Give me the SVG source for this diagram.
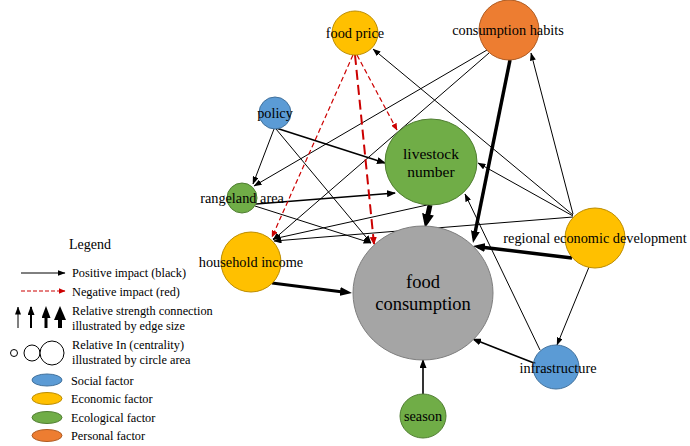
<svg xmlns="http://www.w3.org/2000/svg" width="690" height="446" viewBox="0 0 690 446" font-family="'Liberation Serif', 'Times New Roman', Times, serif">
<style>
  text { font-family: 'Liberation Serif', 'Times New Roman', Times, serif; fill: #000; }
  .lbl { font-size: 14.3px; text-anchor: middle; }
  .leg { font-size: 12.3px; }
  .e1 { stroke: #000; stroke-width: 1; fill: none; marker-end: url(#a1); }
  .e2 { stroke: #000; stroke-width: 1.6; fill: none; marker-end: url(#a2); }
  .e3 { stroke: #000; stroke-width: 3.5; fill: none; marker-end: url(#a3); }
  .e4 { stroke: #000; stroke-width: 5; fill: none; marker-end: url(#a4); }
  .r1 { stroke: #CC0000; stroke-width: 1.2; stroke-dasharray: 5 3; fill: none; marker-end: url(#ar); }
  .r2 { stroke: #CC0000; stroke-width: 2; stroke-dasharray: 10 5; fill: none; marker-end: url(#ar2); }
  .soc { fill: #5B9BD5; stroke: #41719C; stroke-width: 1; }
  .eco { fill: #FFC000; stroke: #BC8C00; stroke-width: 1; }
  .ecl { fill: #70AD47; stroke: #507E32; stroke-width: 1; }
  .per { fill: #ED7D31; stroke: #AE5A21; stroke-width: 1; }
  .cen { fill: #A5A5A5; stroke: #7F7F7F; stroke-width: 1; }
</style>
<defs>
  <marker id="a1" markerUnits="userSpaceOnUse" markerWidth="8" markerHeight="6" refX="7.5" refY="3" orient="auto"><path d="M0,0 L8,3 L0,6 z" fill="#000"/></marker>
  <marker id="a2" markerUnits="userSpaceOnUse" markerWidth="9" markerHeight="7" refX="8" refY="3.5" orient="auto"><path d="M0,0 L9,3.5 L0,7 z" fill="#000"/></marker>
  <marker id="a3" markerUnits="userSpaceOnUse" markerWidth="12" markerHeight="9" refX="7" refY="4.5" orient="auto"><path d="M0,0 L12,4.5 L0,9 z" fill="#000"/></marker>
  <marker id="a4" markerUnits="userSpaceOnUse" markerWidth="14" markerHeight="12" refX="8" refY="6" orient="auto"><path d="M0,0 L14,6 L0,12 z" fill="#000"/></marker>
  <marker id="ar" markerUnits="userSpaceOnUse" markerWidth="7" markerHeight="6" refX="6.5" refY="3" orient="auto"><path d="M0,0 L7,3 L0,6 z" fill="#CC0000"/></marker>
  <marker id="ar2" markerUnits="userSpaceOnUse" markerWidth="8" markerHeight="7" refX="7" refY="3.5" orient="auto"><path d="M0,0 L8,3.5 L0,7 z" fill="#CC0000"/></marker>
</defs>

<g id="connectors">
  <path class="e1" d="M487,50 L254,186"/>
  <path class="e1" d="M489,53 L273,240"/>
  <path class="e1" d="M573,214 L531,53"/>
  <path class="e1" d="M573,216 L478,163"/>
  <path class="e1" d="M573,215 L373,49"/>
  <path class="e1" d="M573,217 L274,241"/>
  <path class="e1" d="M589,267 L557,345"/>
  <path class="e1" d="M540,350 L465,194"/>
  <path class="e1" d="M274,129 L253,184"/>
  <path class="e1" d="M276,129 L371,243"/>
  <path class="e1" d="M255,206 L371,243"/>
  <path class="e1" d="M427,205 L273,239"/>
  <path class="e2" d="M276,128 L385,163"/>
  <path class="e2" d="M256,204 L395,193"/>
  <path class="e2" d="M534,363 L473,339"/>
  <path class="e2" d="M423,394 L423,360"/>
  <path class="e3" d="M510,60 L474,238"/>
  <path class="e3" d="M572,258 L478,246.7"/>
  <path class="e3" style="stroke-width:3" d="M272,283 L347,292.4"/>
  <path class="e4" d="M430,205 L426.3,222.1"/>
  <path class="r1" d="M357,55 L397,130"/>
  <path class="r1" d="M353,55 L272,237"/>
  <path class="r2" d="M355,55 L374,244"/>
</g>

<g id="node-food-price">
  <ellipse class="eco" cx="355" cy="33" rx="23" ry="22"/>
  <text class="lbl" x="355" y="38">food price</text>
</g>
<g id="node-consumption-habits">
  <circle class="per" cx="509" cy="30" r="30"/>
  <text class="lbl" x="508" y="35">consumption habits</text>
</g>
<g id="node-policy">
  <circle class="soc" cx="275" cy="113" r="16"/>
  <text class="lbl" x="275" y="118">policy</text>
</g>
<g id="node-livestock-number">
  <ellipse class="ecl" cx="431" cy="162" rx="46" ry="43"/>
  <text class="lbl" style="font-size:15.5px" x="431" y="159">livestock</text>
  <text class="lbl" style="font-size:15.5px" x="431" y="177">number</text>
</g>
<g id="node-rangeland-area">
  <circle class="ecl" cx="242" cy="198" r="15"/>
  <text class="lbl" x="242" y="203">rangeland area</text>
</g>
<g id="node-household-income">
  <circle class="eco" cx="251" cy="262" r="30"/>
  <text class="lbl" x="251" y="267">household income</text>
</g>
<g id="node-food-consumption">
  <ellipse class="cen" cx="423" cy="293" rx="70" ry="67"/>
  <text class="lbl" style="font-size:18.5px" x="423" y="288">food</text>
  <text class="lbl" style="font-size:18.5px" x="423" y="310">consumption</text>
</g>
<g id="node-regional-economic-development">
  <circle class="eco" cx="595" cy="238" r="30"/>
  <text class="lbl" x="595" y="243">regional economic development</text>
</g>
<g id="node-infrastructure">
  <ellipse class="soc" cx="556" cy="367" rx="23" ry="22"/>
  <text class="lbl" x="558" y="373">infrastructure</text>
</g>
<g id="node-season">
  <ellipse class="ecl" cx="423" cy="416" rx="23" ry="22"/>
  <text class="lbl" x="423" y="421">season</text>
</g>

<g id="legend">
  <text x="69" y="249" style="font-size:14px">Legend</text>
  <path class="e1" d="M21,273 L65,273"/>
  <text class="leg" x="72" y="277">Positive impact (black)</text>
  <path style="stroke:#CC0000;stroke-width:1.2;stroke-dasharray:4 2;fill:none;marker-end:url(#ar)" d="M21,291 L65,291"/>
  <text class="leg" x="72" y="296">Negative impact (red)</text>
  <path class="e1" d="M18,328 L18,307"/>
  <path class="e2" style="stroke-width:2" d="M31,328 L31,307"/>
  <path class="e3" style="stroke-width:3" d="M46,328 L46,311"/>
  <path class="e4" style="stroke-width:4" d="M60,328 L60,312"/>
  <text class="leg" x="72" y="315">Relative strength connection</text>
  <text class="leg" x="72" y="330">illustrated by edge size</text>
  <circle cx="14" cy="353" r="3.5" fill="#fff" stroke="#000" stroke-width="1"/>
  <circle cx="32" cy="353" r="8" fill="#fff" stroke="#000" stroke-width="1"/>
  <circle cx="52" cy="353" r="12" fill="#fff" stroke="#000" stroke-width="1"/>
  <text class="leg" x="72" y="349">Relative In (centrality)</text>
  <text class="leg" x="72" y="364">illustrated by circle area</text>
  <ellipse class="soc" cx="47" cy="380" rx="15" ry="6"/>
  <text class="leg" x="71" y="385">Social factor</text>
  <ellipse class="eco" cx="47" cy="398.5" rx="15" ry="6"/>
  <text class="leg" x="71" y="403">Economic factor</text>
  <ellipse class="ecl" cx="47" cy="417.5" rx="15" ry="6"/>
  <text class="leg" x="71" y="422">Ecological factor</text>
  <ellipse class="per" cx="47" cy="435.5" rx="15" ry="6"/>
  <text class="leg" x="71" y="440">Personal factor</text>
</g>
</svg>
